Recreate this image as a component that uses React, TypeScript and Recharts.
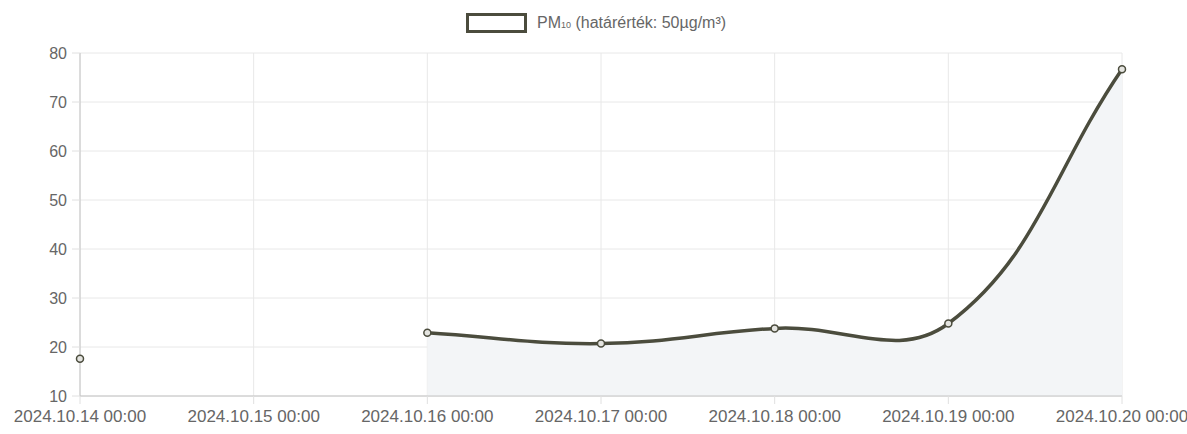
import { ComposedChart, Area, XAxis, YAxis, CartesianGrid, Legend } from 'recharts'

document.body.style.margin = '0'

const days = [
  '2024.10.14 00:00',
  '2024.10.15 00:00',
  '2024.10.16 00:00',
  '2024.10.17 00:00',
  '2024.10.18 00:00',
  '2024.10.19 00:00',
  '2024.10.20 00:00',
]
const pm10 = [17.6, null, 22.9, 20.7, 23.8, 24.8, 76.7]
const yTicks = [10, 20, 30, 40, 50, 60, 70, 80]

const data = days.map((day, i) => ({ day, pm10: pm10[i] }))

const font = '"Liberation Sans", Arial, sans-serif'
const lineColor = '#4b4c3d'
const TENSION = 0.4

// bezier spline like chart.js (tension 0.4), as a d3 curve factory
function splineCurve(ctx: any) {
  let pts: number[][] = []
  let line = NaN
  return {
    areaStart() { line = 0 },
    areaEnd() { line = NaN },
    lineStart() { pts = [] },
    point(x: number, y: number) { pts.push([+x, +y]) },
    lineEnd() {
      const n = pts.length
      if (n > 0) {
        if (line) ctx.lineTo(pts[0][0], pts[0][1])
        else ctx.moveTo(pts[0][0], pts[0][1])
        const cps = pts.map((p, i) => {
          const prev = pts[Math.max(i - 1, 0)]
          const next = pts[Math.min(i + 1, n - 1)]
          const d01 = Math.hypot(p[0] - prev[0], p[1] - prev[1])
          const d12 = Math.hypot(next[0] - p[0], next[1] - p[1])
          const s01 = d01 + d12 > 0 ? d01 / (d01 + d12) : 0
          const s12 = d01 + d12 > 0 ? d12 / (d01 + d12) : 0
          const fa = TENSION * s01
          const fb = TENSION * s12
          return {
            before: [p[0] - fa * (next[0] - prev[0]), p[1] - fa * (next[1] - prev[1])],
            after: [p[0] + fb * (next[0] - prev[0]), p[1] + fb * (next[1] - prev[1])],
          }
        })
        for (let i = 1; i < n; i++) {
          ctx.bezierCurveTo(
            cps[i - 1].after[0], cps[i - 1].after[1],
            cps[i].before[0], cps[i].before[1],
            pts[i][0], pts[i][1],
          )
        }
      }
      if (line || (line !== 0 && n === 1)) ctx.closePath()
      line = 1 - line
    },
  }
}

const renderLegend = () => (
  <div style={{ position: 'relative', height: 40, fontFamily: font, fontSize: 16, color: '#666' }}>
    <span
      style={{
        position: 'absolute',
        left: 466,
        top: 0,
        width: 55,
        height: 14,
        border: `3px solid ${lineColor}`,
        background: '#fff',
      }}
    />
    <span style={{ position: 'absolute', left: 537, top: 1, lineHeight: '18px', whiteSpace: 'nowrap' }}>
      PM<sub style={{ fontSize: 9, verticalAlign: 'baseline' }}>10</sub> (határérték: 50µg/m³)
    </span>
  </div>
)

export default function App() {
  return (
    <div style={{ width: 1187, height: 434, background: '#fff' }}>
      <ComposedChart width={1187} height={434} data={data} margin={{ top: 13, right: 65, bottom: 8, left: 0 }}>
        <Legend
          verticalAlign="top"
          content={renderLegend}
          wrapperStyle={{ left: 0, top: 13, width: 1187, height: 40 }}
        />
        <CartesianGrid stroke="#e8e8e8" />
        <XAxis
          dataKey="day"
          height={30}
          interval={0}
          tickSize={8}
          tickMargin={6}
          tick={{ fill: '#666', fontSize: 17, fontFamily: font }}
          tickLine={{ stroke: '#e0e0e0' }}
          axisLine={{ stroke: '#c4c4c4' }}
        />
        <YAxis
          width={80}
          domain={[10, 80]}
          ticks={yTicks}
          interval={0}
          tickSize={8}
          tickMargin={5}
          tick={{ fill: '#666', fontSize: 16, fontFamily: font }}
          tickLine={{ stroke: '#e0e0e0' }}
          axisLine={{ stroke: '#c4c4c4' }}
        />
        <Area
          dataKey="pm10"
          type={splineCurve as any}
          stroke={lineColor}
          strokeWidth={3.5}
          fill="#f3f5f7"
          fillOpacity={1}
          connectNulls={false}
          dot={{ r: 3.5, stroke: lineColor, strokeWidth: 1.5, fill: '#e4e4e0' }}
          activeDot={false}
          isAnimationActive={false}
        />
      </ComposedChart>
    </div>
  )
}
